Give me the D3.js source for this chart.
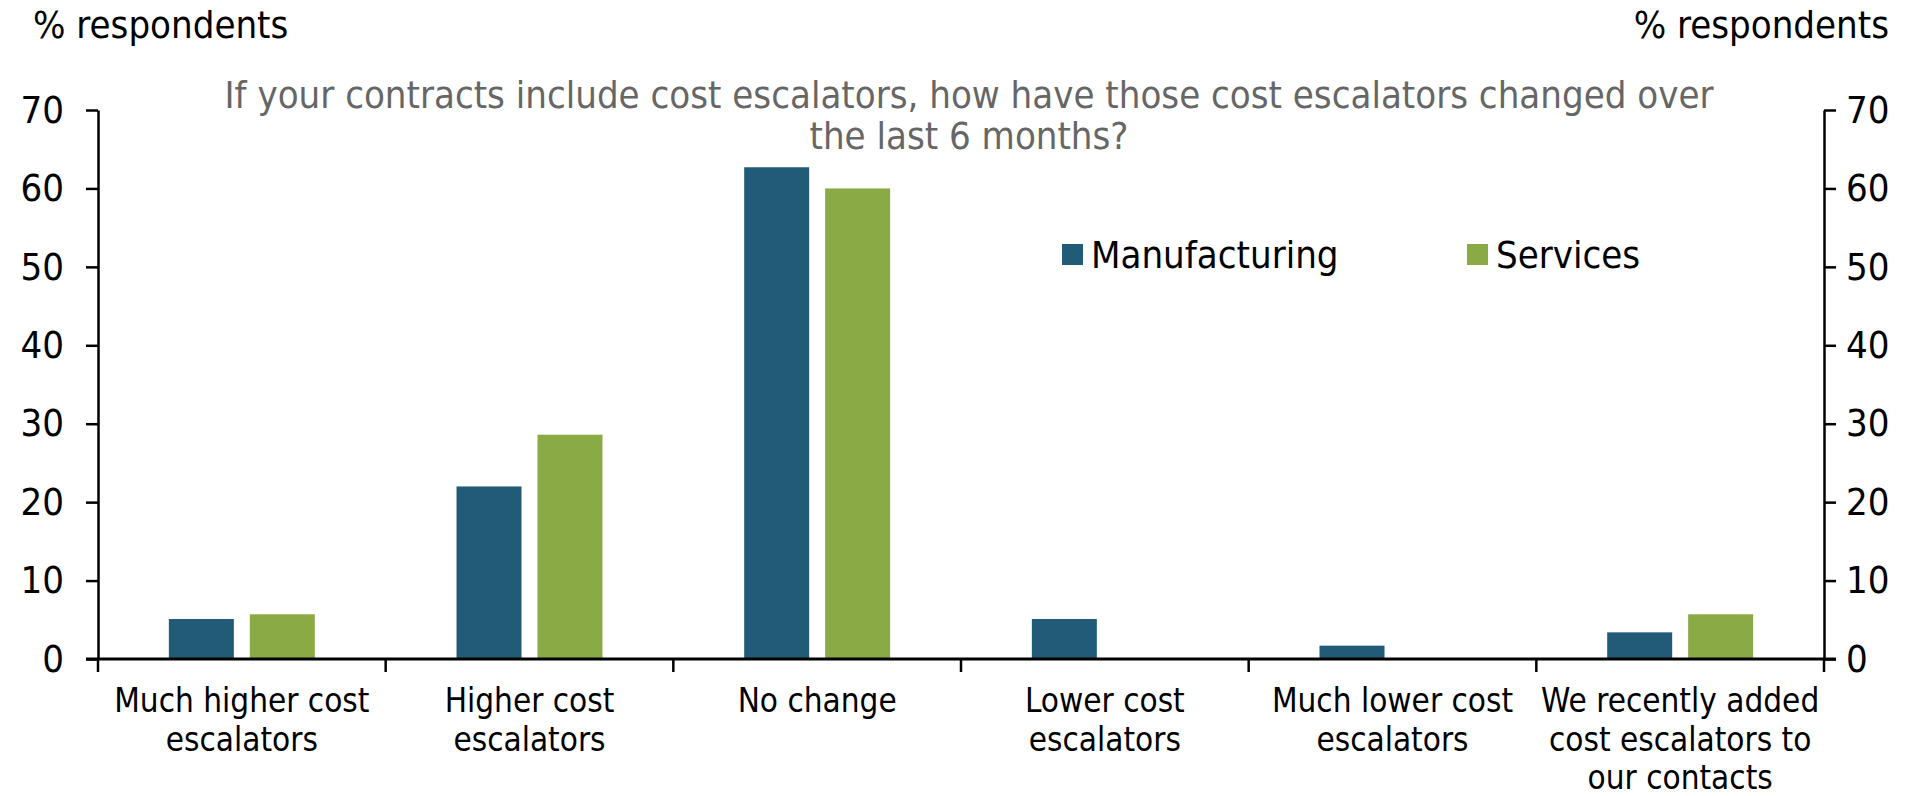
<!DOCTYPE html>
<html><head><meta charset="utf-8">
<script src="https://cdn.jsdelivr.net/npm/d3@7"></script>
<style>
html,body{margin:0;padding:0;background:#fff;}
svg text{font-family:"Liberation Sans Narrow","DejaVu Sans Condensed","Arial Narrow",sans-serif;}
</style></head>
<body>
<svg id="chart" width="1923" height="796"></svg>
<script>
const categories = [
  ["Much higher cost", "escalators"],
  ["Higher cost", "escalators"],
  ["No change"],
  ["Lower cost", "escalators"],
  ["Much lower cost", "escalators"],
  ["We recently added", "cost escalators to", "our contacts"]
];
const seriesNames = ["Manufacturing", "Services"];
const manufacturing = [5.1, 22.0, 62.7, 5.1, 1.7, 3.4];
const services = [5.7, 28.6, 60.0, 0, 0, 5.7];
const yTicks = [0, 10, 20, 30, 40, 50, 60, 70];
const colors = ["#225B78", "#89AA45"];
const title = ["If your contracts include cost escalators, how have those cost escalators changed over", "the last 6 months?"];
const yTitle = "% respondents";

const svg = d3.select("#chart");
const L = 98, R = 1824, T = 110, B = 659;
const catKeys = categories.map((c, i) => i);
const x0 = d3.scaleBand().domain(catKeys).range([L, R]).padding(0);
const x1 = d3.scaleBand().domain(seriesNames).range([0, x0.bandwidth()]).paddingInner(0.1975).paddingOuter(0.875);
const y = d3.scaleLinear().domain([0, 70]).range([B, T]);
const seriesData = [manufacturing, services];

// bars
seriesNames.forEach((s, si) => {
  svg.append("g").selectAll("rect").data(seriesData[si]).join("rect")
    .attr("x", (d, i) => x0(i) + x1(s))
    .attr("y", d => y(d))
    .attr("width", x1.bandwidth())
    .attr("height", d => B - y(d))
    .attr("fill", colors[si]);
});

// axes
const axStyle = g => {
  g.select(".domain").attr("stroke", "#000").attr("stroke-width", 2.5);
  g.selectAll(".tick line").attr("stroke", "#000").attr("stroke-width", 2.5);
  g.selectAll(".tick text").attr("fill", "#000").style("font-size", "38px");
};
const yl = svg.append("g").attr("transform", `translate(${L},0)`)
  .call(d3.axisLeft(y).tickValues(yTicks).tickSize(12).tickSizeOuter(0).tickPadding(22).tickFormat(d3.format("d")));
axStyle(yl);
const yr = svg.append("g").attr("transform", `translate(${R},0)`)
  .call(d3.axisRight(y).tickValues(yTicks).tickSize(12).tickSizeOuter(0).tickPadding(10).tickFormat(d3.format("d")));
axStyle(yr);

// x axis with boundary ticks
const xg = svg.append("g");
xg.append("line").attr("x1", L - 12).attr("x2", R + 12).attr("y1", B).attr("y2", B)
  .attr("stroke", "#000").attr("stroke-width", 3);
const bounds = catKeys.map(i => x0(i)).concat([R]);
xg.selectAll("line.tk").data(bounds).join("line").attr("class", "tk")
  .attr("x1", d => d).attr("x2", d => d).attr("y1", B).attr("y2", B + 13)
  .attr("stroke", "#000").attr("stroke-width", 2.5);
const lab = xg.selectAll("text.cl").data(categories).join("text").attr("class", "cl")
  .attr("x", (d, i) => x0(i) + x0.bandwidth() / 2)
  .attr("y", 712)
  .attr("text-anchor", "middle").attr("fill", "#000").style("font-size", "33px");
lab.selectAll("tspan").data(d => d).join("tspan")
  .attr("x", function() { return this.parentNode.getAttribute("x"); })
  .attr("dy", (d, j) => j === 0 ? 0 : 38.5)
  .text(d => d);

// axis titles
svg.append("text").attr("x", 33).attr("y", 38).attr("fill", "#000").style("font-size", "38px").text(yTitle);
svg.append("text").attr("x", 1889).attr("y", 38).attr("text-anchor", "end").attr("fill", "#000").style("font-size", "38px").text(yTitle);

// chart title
svg.append("text").attr("x", 969).attr("y", 108).attr("text-anchor", "middle").attr("fill", "#666")
  .style("font-size", "38px")
  .selectAll("tspan").data(title).join("tspan").attr("x", 969).attr("dy", (d, i) => i === 0 ? 0 : 41).text(d => d);

// legend
const legX = [1062, 1467];
const leg = svg.append("g").selectAll("g").data(seriesNames).join("g")
  .attr("transform", (d, i) => `translate(${legX[i]},244)`);
leg.append("rect").attr("width", 21).attr("height", 21).attr("fill", (d, i) => colors[i]);
leg.append("text").attr("x", 29).attr("y", 24).attr("fill", "#000").style("font-size", "38px").text(d => d);
</script>
</body></html>
